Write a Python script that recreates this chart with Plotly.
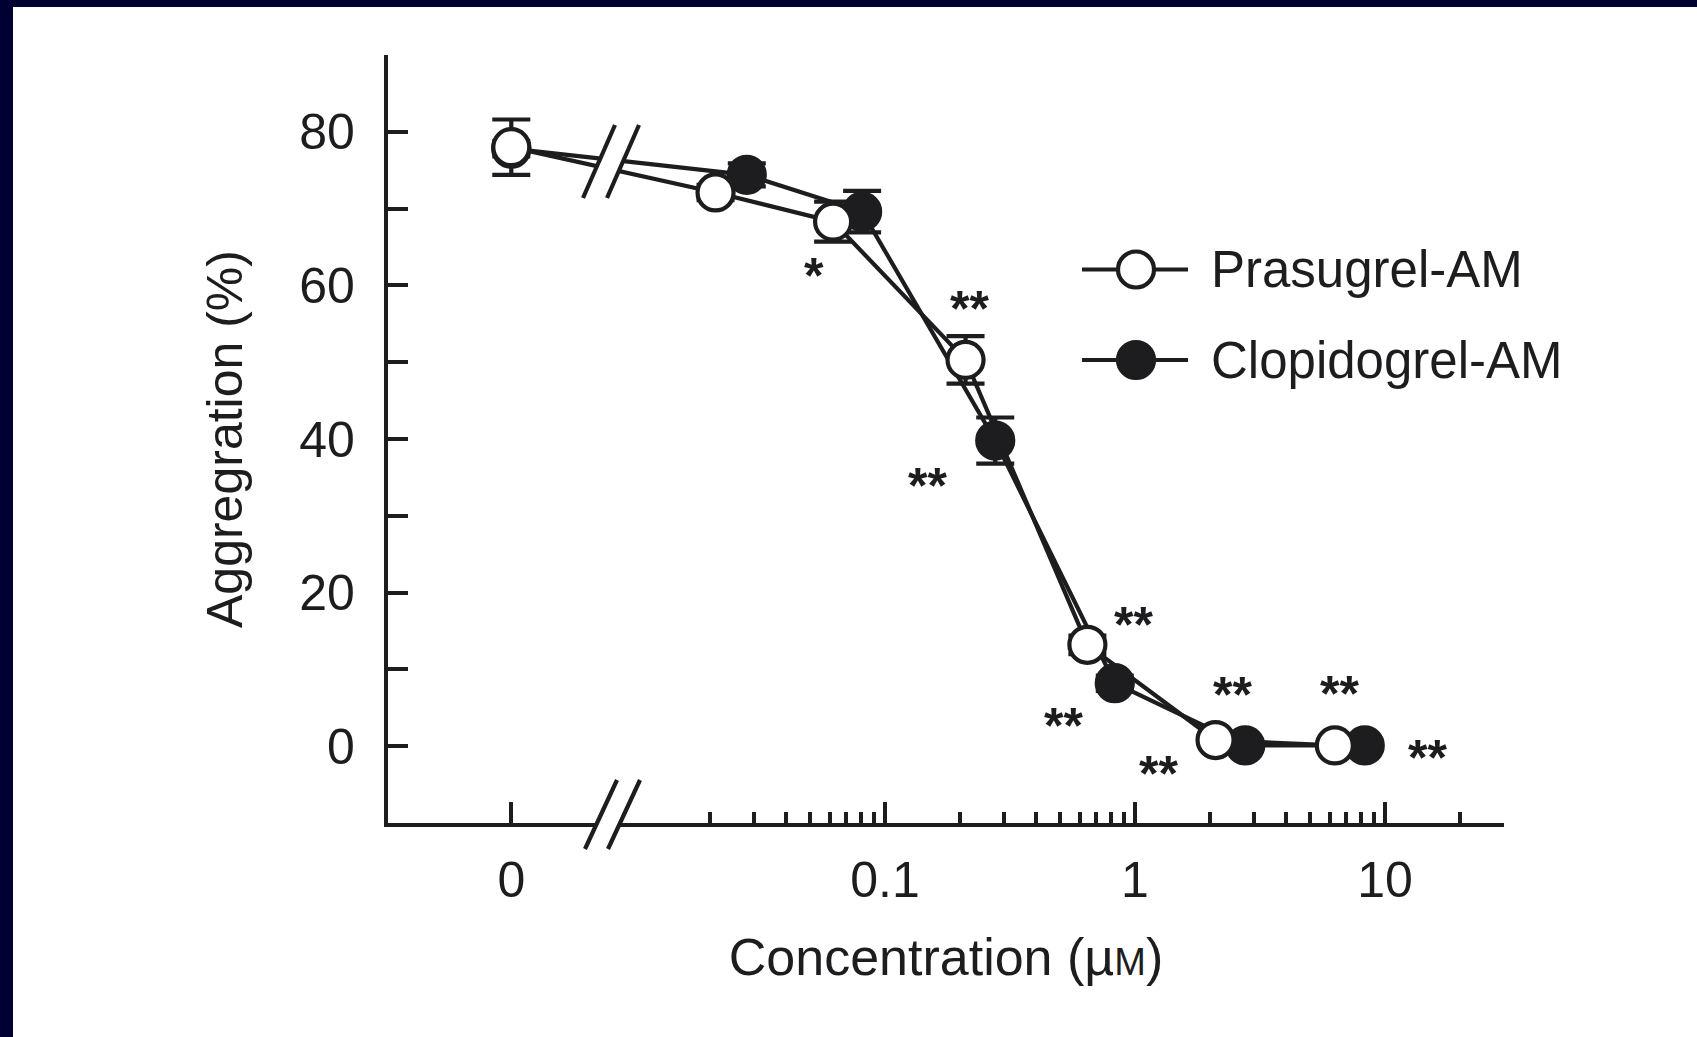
import math
import plotly.graph_objects as go

# ---------------- data ----------------
series_names = ["Prasugrel-AM", "Clopidogrel-AM"]

prasugrel_conc = [0, 0.021, 0.062, 0.21, 0.645, 2.1, 6.3]
prasugrel_mean = [78.0, 72.1, 68.3, 50.3, 13.2, 0.8, 0.1]
prasugrel_sem = [3.6, 1.0, 2.6, 3.1, 1.2, 0.5, 0.3]
prasugrel_sig = ["", "", "*", "**", "**", "**", "**"]

clopidogrel_conc = [0, 0.028, 0.081, 0.276, 0.83, 2.76, 8.3]
clopidogrel_mean = [77.8, 74.4, 69.6, 39.8, 8.2, 0.1, 0.1]
clopidogrel_sem = [1.0, 1.5, 2.7, 3.0, 1.0, 0.3, 0.3]
clopidogrel_sig = ["", "", "", "**", "**", "**", "**"]

x_major_vals = [0, 0.1, 1, 10]
x_tick_labels = ["0", "0.1", "1", "10"]
x_minor_vals = [0.02, 0.03, 0.04, 0.05, 0.06, 0.07, 0.08, 0.09,
                0.2, 0.3, 0.4, 0.5, 0.6, 0.7, 0.8, 0.9,
                2, 3, 4, 5, 6, 7, 8, 9, 20, 30]
y_tick_vals = [0, 10, 20, 30, 40, 50, 60, 70, 80, 90]
y_tick_labels = ["0", "", "20", "", "40", "", "60", "", "80", ""]

# position of the zero-concentration control on the log axis (left of the break)
ZERO_POS = 0.0032

# ---------------- layout constants ----------------
W, H = 1697, 1037
L, R, T, B = 388, 1504, 55, 823
PX_DECADE = 250.0
PX_AT_0_1 = 885.0
INK = "#1d1d1f"
FONT = "Liberation Sans, Arial, Helvetica, sans-serif"
FS = 50
LW = 4.2


def px2x(px):
    return (px - L) / (R - L)


def py2y(py):
    return (B - py) / (B - T)


def placed(conc):
    return [ZERO_POS if c == 0 else c for c in conc]


x_range = [-1 - (PX_AT_0_1 - L) / PX_DECADE, -1 + (R - PX_AT_0_1) / PX_DECADE]

fig = go.Figure()

marker_common = dict(size=36, line=dict(color=INK, width=LW))

fig.add_trace(go.Scatter(
    x=placed(clopidogrel_conc), y=clopidogrel_mean, name=series_names[1],
    mode="lines+markers",
    line=dict(color=INK, width=LW),
    marker=dict(color=INK, **marker_common),
    error_y=dict(type="data", array=clopidogrel_sem, visible=True,
                 color=INK, thickness=LW, width=19),
    showlegend=False, cliponaxis=False,
))
fig.add_trace(go.Scatter(
    x=placed(prasugrel_conc), y=prasugrel_mean, name=series_names[0],
    mode="lines+markers",
    line=dict(color=INK, width=LW),
    marker=dict(color="white", **marker_common),
    error_y=dict(type="data", array=prasugrel_sem, visible=True,
                 color=INK, thickness=LW, width=19),
    showlegend=False, cliponaxis=False,
))

# ---------------- significance marks ----------------
STAR_FS = 50
STAR_RAISE = 0.23 * STAR_FS
prasugrel_star_offsets = [None, None, (-19, 43), (4, -62), (46, -31), (17, -57), (5, -63)]
clopidogrel_star_offsets = [None, None, None, (-68, 34), (-51, 31), (-87, 17), (63, 1)]

annotations = []
for conc, mean, sig, offs in [
    (prasugrel_conc, prasugrel_mean, prasugrel_sig, prasugrel_star_offsets),
    (clopidogrel_conc, clopidogrel_mean, clopidogrel_sig, clopidogrel_star_offsets),
]:
    for c, m, s, o in zip(conc, mean, sig, offs):
        if not s:
            continue
        annotations.append(dict(
            x=math.log10(c), y=m, xref="x", yref="y", text="<b>" + s + "</b>",
            showarrow=False, xanchor="center", yanchor="middle",
            xshift=o[0], yshift=-o[1] - STAR_RAISE,
            font=dict(family=FONT, size=STAR_FS, color=INK),
        ))

# ---------------- legend (drawn manually for large symbols) ----------------
shapes = []
legend_rows = [269.5, 360]
legend_fill = ["white", INK]
for name, ry, fill in zip(series_names, legend_rows, legend_fill):
    shapes.append(dict(type="line", xref="paper", yref="paper",
                       x0=px2x(1082), x1=px2x(1188), y0=py2y(ry), y1=py2y(ry),
                       line=dict(color=INK, width=LW), layer="above"))
    shapes.append(dict(type="circle", xref="paper", yref="paper",
                       xsizemode="pixel", ysizemode="pixel",
                       xanchor=px2x(1136), yanchor=py2y(ry),
                       x0=-18, x1=18, y0=-18, y1=18,
                       fillcolor=fill, line=dict(color=INK, width=LW), layer="above"))
    annotations.append(dict(x=px2x(1209), y=py2y(ry), xref="paper", yref="paper",
                            text=name, showarrow=False, xanchor="left", yanchor="middle",
                            font=dict(family=FONT, size=51, color=INK)))

# ---------------- axis breaks ----------------
def band(a0, a1, b0, b1):
    pts = [a0, a1, b1, b0]
    return "M " + " L ".join(f"{px2x(p[0])},{py2y(p[1])}" for p in pts) + " Z"


for (a0, a1, b0, b1) in [
    ((583, 198), (615, 125), (607, 198), (639, 125)),   # across the data lines
    ((585, 849), (617, 780), (608, 849), (640, 780)),   # across the x axis
]:
    shapes.append(dict(type="path", xref="paper", yref="paper", path=band(a0, a1, b0, b1),
                       fillcolor="white", line=dict(width=0), layer="above"))
    for p, q in [(a0, a1), (b0, b1)]:
        shapes.append(dict(type="line", xref="paper", yref="paper",
                           x0=px2x(p[0]), y0=py2y(p[1]), x1=px2x(q[0]), y1=py2y(q[1]),
                           line=dict(color=INK, width=LW), layer="above"))

# ---------------- frame border (dark edges of the picture) ----------------
NAVY = "#000033"
shapes.append(dict(type="rect", xref="paper", yref="paper",
                   x0=px2x(0), x1=px2x(W), y0=py2y(7), y1=py2y(-2),
                   fillcolor=NAVY, line=dict(width=0), layer="above"))
shapes.append(dict(type="rect", xref="paper", yref="paper",
                   x0=px2x(-2), x1=px2x(13), y0=py2y(H + 2), y1=py2y(-2),
                   fillcolor=NAVY, line=dict(width=0), layer="above"))

fig.update_layout(
    width=W, height=H,
    margin=dict(l=L, r=W - R, t=T, b=H - B, autoexpand=False),
    paper_bgcolor="white", plot_bgcolor="white",
    font=dict(family=FONT, size=FS, color=INK),
    showlegend=False,
    shapes=shapes, annotations=annotations,
    xaxis=dict(
        type="log", range=x_range,
        tickmode="array", tickvals=placed(x_major_vals), ticktext=x_tick_labels,
        ticks="inside", ticklen=21, tickwidth=LW, tickcolor=INK,
        minor=dict(tickmode="array", tickvals=x_minor_vals, ticks="inside",
                   ticklen=11, tickwidth=LW, tickcolor=INK, showgrid=False),
        showline=True, linecolor=INK, linewidth=LW, mirror=False,
        showgrid=False, zeroline=False,
        tickfont=dict(family=FONT, size=FS, color=INK),
        ticklabelstandoff=10,
        title=dict(text="Concentration (µ<span style='font-size:38px'>M</span>)",
                   font=dict(family=FONT, size=52, color=INK), standoff=33),
        automargin=False,
    ),
    yaxis=dict(
        range=[-10, 90],
        tickmode="array", tickvals=y_tick_vals, ticktext=y_tick_labels,
        ticks="inside", ticklen=20, tickwidth=LW, tickcolor=INK,
        showline=True, linecolor=INK, linewidth=LW, mirror=False,
        showgrid=False, zeroline=False,
        tickfont=dict(family=FONT, size=FS, color=INK),
        ticklabelstandoff=19,
        title=dict(text="Aggregration (%)",
                   font=dict(family=FONT, size=FS, color=INK), standoff=42),
        automargin=False,
    ),
)

fig.write_html("out.html")
